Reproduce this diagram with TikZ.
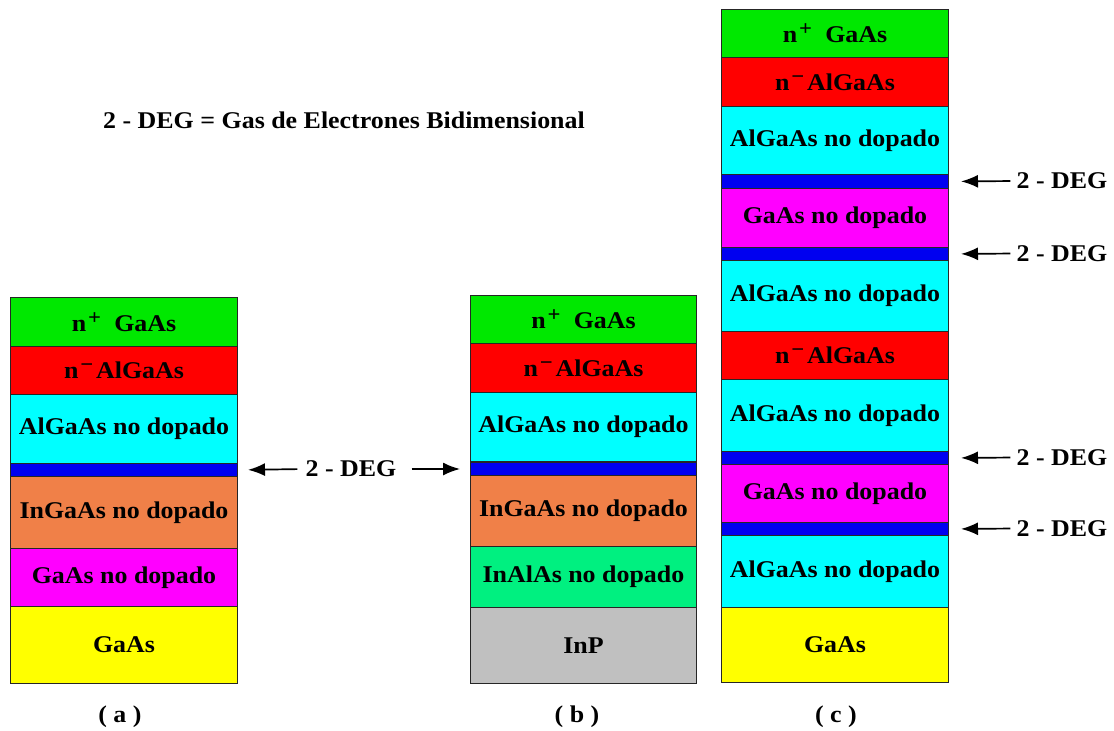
\documentclass[tikz,border=0pt]{standalone}
\usepackage{fontspec}
\setmainfont[FakeStretch=1.08]{Liberation Serif}
\usetikzlibrary{arrows.meta}
\definecolor{cgreen}{HTML}{00E800}
\definecolor{cred}{HTML}{FF0000}
\definecolor{ccyan}{HTML}{00FFFF}
\definecolor{cblue}{HTML}{0000F0}
\definecolor{corange}{HTML}{F08048}
\definecolor{cmag}{HTML}{FF00FF}
\definecolor{cyel}{HTML}{FFFF00}
\definecolor{csgreen}{HTML}{00F080}
\definecolor{cgray}{HTML}{C0C0C0}
\newcommand{\labfont}{\fontsize{24}{24}\selectfont\bfseries}
\newcommand{\nplus}{n\hspace{.08em}\raisebox{.3em}{\fontsize{21}{21}\selectfont +}\hspace{.55em}GaAs}
\newcommand{\nminus}{n\hspace{.08em}\raisebox{.3em}{\fontsize{21}{21}\selectfont −}\hspace{.12em}AlGaAs}
\begin{document}
\begin{tikzpicture}[x=1pt,y=-1pt,
  layer/.style={draw=black!85, line width=1pt, inner sep=0pt, anchor=north west, font=\labfont},
  la/.style={layer, minimum width=227pt},
  lb/.style={layer, minimum width=226pt},
  deg/.style={font=\labfont, inner sep=1pt},
  arr/.style={line width=1.7pt, -{Latex[length=17pt,width=13pt]}, shorten >=12pt, shorten <=5pt},
  captext/.style={font=\fontsize{24}{24}\selectfont\bfseries}]
\useasboundingbox (0,0) rectangle (1114,731);
% stack (a)
\node[la, fill=cgreen, minimum height=49pt] (a1) at (10,297) {\nplus};
\node[la, fill=cred, minimum height=48pt] (a2) at (10,346) {\nminus};
\node[la, fill=ccyan, minimum height=69pt] (a3) at (10,394) {AlGaAs no dopado};
\node[la, fill=cblue, minimum height=13pt] (a4) at (10,463) {};
\node[la, fill=corange, minimum height=72pt] (a5) at (10,476) {InGaAs no dopado};
\node[la, fill=cmag, minimum height=58pt] (a6) at (10,548) {GaAs no dopado};
\node[la, fill=cyel, minimum height=77pt] (a7) at (10,606) {GaAs};
% stack (b)
\node[lb, fill=cgreen, minimum height=48pt] (b1) at (470,295) {\nplus};
\node[lb, fill=cred, minimum height=49pt] (b2) at (470,343) {\nminus};
\node[lb, fill=ccyan, minimum height=69pt] (b3) at (470,392) {AlGaAs no dopado};
\node[lb, fill=cblue, minimum height=13pt] (b4) at (470,462) {};
\node[lb, fill=corange, minimum height=71pt] (b5) at (470,475) {InGaAs no dopado};
\node[lb, fill=csgreen, minimum height=61pt] (b6) at (470,546) {InAlAs no dopado};
\node[lb, fill=cgray, minimum height=76pt] (b7) at (470,607) {InP};
% stack (c)
\node[la, fill=cgreen, minimum height=48pt] (c1) at (721,9) {\nplus};
\node[la, fill=cred, minimum height=49pt] (c2) at (721,57) {\nminus};
\node[la, fill=ccyan, minimum height=68pt] (c3) at (721,106) {AlGaAs no dopado};
\node[la, fill=cblue, minimum height=14pt] (c4) at (721,174) {};
\node[la, fill=cmag, minimum height=59pt] (c5) at (721,188) {GaAs no dopado};
\node[la, fill=cblue, minimum height=13pt] (c6) at (721,247) {};
\node[la, fill=ccyan, minimum height=71pt] (c7) at (721,260) {AlGaAs no dopado};
\node[la, fill=cred, minimum height=48pt] (c8) at (721,331) {\nminus};
\node[la, fill=ccyan, minimum height=72pt] (c9) at (721,379) {AlGaAs no dopado};
\node[la, fill=cblue, minimum height=13pt] (c10) at (721,451) {};
\node[la, fill=cmag, minimum height=58pt] (c11) at (721,464) {GaAs no dopado};
\node[la, fill=cblue, minimum height=13pt] (c12) at (721,522) {};
\node[la, fill=ccyan, minimum height=72pt] (c13) at (721,535) {AlGaAs no dopado};
\node[la, fill=cyel, minimum height=75pt] (c14) at (721,607) {GaAs};
% title
\node[deg] (title) at (344,120) {2 - DEG = Gas de Electrones Bidimensional};
% middle 2-DEG
\node[deg] (d0) at (351,469) {2 - DEG};
\draw[arr, shorten <=7pt, shorten >=10pt] (d0.west) -- (a4.east);
\draw[arr, shorten <=14pt, shorten >=10pt] (d0.east) -- (b4.west);
% right 2-DEG
\node[deg] (d1) at (1062,181) {2 - DEG};
\node[deg] (d2) at (1062,253.5) {2 - DEG};
\node[deg] (d3) at (1062,457.5) {2 - DEG};
\node[deg] (d4) at (1062,528.5) {2 - DEG};
\draw[arr] (d1.west) -- (c4.east);
\draw[arr] (d2.west) -- (c6.east);
\draw[arr] (d3.west) -- (c10.east);
\draw[arr] (d4.west) -- (c12.east);
% captions
\node[captext] (ca) at (120,717) {( a )};
\node[captext] (cb) at (577,717) {( b )};
\node[captext] (cc) at (836,717) {( c )};
\end{tikzpicture}
\end{document}
